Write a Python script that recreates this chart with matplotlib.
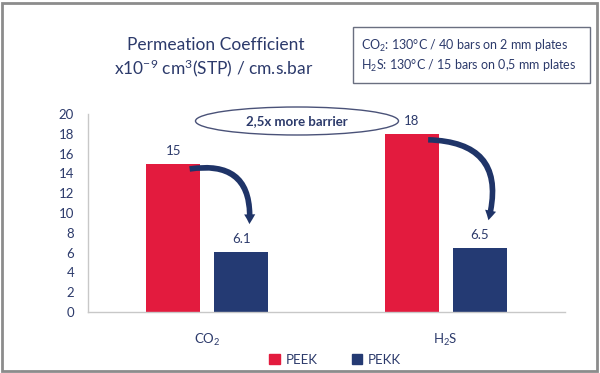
"""Permeation coefficient of PEEK vs PEKK for CO2 and H2S."""

import matplotlib

matplotlib.use("Agg")
import matplotlib.pyplot as plt
import numpy as np
from matplotlib.patches import Ellipse, FancyArrowPatch, Patch, Rectangle

plt.rcParams["font.family"] = ["Lato", "DejaVu Sans"]
plt.rcParams["mathtext.fontset"] = "custom"
plt.rcParams["mathtext.rm"] = "Lato"
plt.rcParams["mathtext.it"] = "Lato"
plt.rcParams["mathtext.bf"] = "Lato:bold"

gases = ["CO$_2$", "H$_2$S"]
peek = [15, 18]
pekk = [6.1, 6.5]
peek_labels = ["15", "18"]
pekk_labels = ["6.1", "6.5"]
series_names = ["PEEK", "PEKK"]
y_ticks = [0, 2, 4, 6, 8, 10, 12, 14, 16, 18, 20]

RED = "#e31b3e"
NAVY = "#243a73"
TEXT = "#2c3a6b"
W, H = 600, 373


def fig_xy(x, y):
    return x / W, 1 - y / H


fig = plt.figure(figsize=(W / 100, H / 100), dpi=100)
ax = fig.add_axes([88 / W, 1 - 312 / H, (565 - 88) / W, (312 - 114) / H])

x = np.arange(len(gases))
bar_w = 0.226
offset = 0.142
ax.bar(x - offset, peek, bar_w, color=RED, zorder=2)
ax.bar(x + offset, pekk, bar_w, color=NAVY, zorder=2)

for xi, v, lab in zip(x - offset, peek, peek_labels):
    ax.annotate(lab, (xi, v), xytext=(0, 5), textcoords="offset points",
                ha="center", va="bottom", fontsize=9.5, color=TEXT)
for xi, v, lab in zip(x + offset, pekk, pekk_labels):
    ax.annotate(lab, (xi, v), xytext=(0, 5), textcoords="offset points",
                ha="center", va="bottom", fontsize=9.5, color=TEXT)

# curved arrows from PEEK bar top down to PEKK bar
for xi, v_hi, v_lo in zip(x, peek, pekk):
    start = (xi - offset + bar_w * 0.25, v_hi - 0.6)
    end = (xi + offset + bar_w * 0.15, v_lo + 2.5)
    arr = FancyArrowPatch(start, end, connectionstyle="arc3,rad=-0.65",
                          arrowstyle="simple,head_width=8,head_length=7,tail_width=4",
                          color="#1f3468", lw=0, zorder=4, clip_on=False)
    ax.add_patch(arr)

ax.set_xlim(-0.5, 1.5)
ax.set_ylim(0, 20)
ax.set_yticks(y_ticks)
ax.set_xticks(x, gases)
ax.tick_params(length=0, labelsize=9.5, labelcolor=TEXT)
ax.tick_params(axis="y", pad=10)
ax.tick_params(axis="x", pad=14)
for side in ["top", "right"]:
    ax.spines[side].set_visible(False)
for side in ["left", "bottom"]:
    ax.spines[side].set_color("#c8c8c8")
    ax.spines[side].set_linewidth(1.0)

# title
fig.text(*fig_xy(216, 45), "Permeation Coefficient", ha="center", va="center",
         fontsize=12.5, color=TEXT)
fig.text(*fig_xy(214, 68), "x10$^{-9}$ cm$^{3}$(STP) / cm.s.bar", ha="center",
         va="center", fontsize=12.5, color=TEXT)

# conditions box
bx0, by0 = fig_xy(353, 83)
bx1, by1 = fig_xy(590, 27)
fig.patches.append(Rectangle((bx0, by0), bx1 - bx0, by1 - by0, transform=fig.transFigure,
                             fill=False, edgecolor="#6a6f80", lw=1.0))
fig.text(*fig_xy(361, 46), "CO$_2$: 130°C / 40 bars on 2 mm plates", ha="left",
         va="center", fontsize=9, color=TEXT)
fig.text(*fig_xy(361, 66), "H$_2$S: 130°C / 15 bars on 0,5 mm plates", ha="left",
         va="center", fontsize=9, color=TEXT)

# ellipse callout
ex, ey = fig_xy(297, 121)
fig.patches.append(Ellipse((ex, ey), 203 / W, 28 / H, transform=fig.transFigure,
                           fill=False, edgecolor="#4a5278", lw=1.0))
fig.text(ex, ey, "2,5x more barrier", ha="center", va="center", fontsize=9.5,
         fontweight="bold", color=TEXT)

# legend
handles = [Patch(color=RED), Patch(color=NAVY)]
fig.legend(handles, series_names, loc="center", bbox_to_anchor=fig_xy(335, 360),
           ncol=2, frameon=False, fontsize=9.5, labelcolor=TEXT, handlelength=0.8,
           handleheight=0.8, handletextpad=0.4, columnspacing=2.6)

# outer frame
fig.patches.append(Rectangle((2 / W, 2 / H), 595 / W, 368 / H, transform=fig.transFigure,
                             fill=False, edgecolor="#8c8c8c", lw=2.0))

fig.savefig("out.png", dpi=100)
